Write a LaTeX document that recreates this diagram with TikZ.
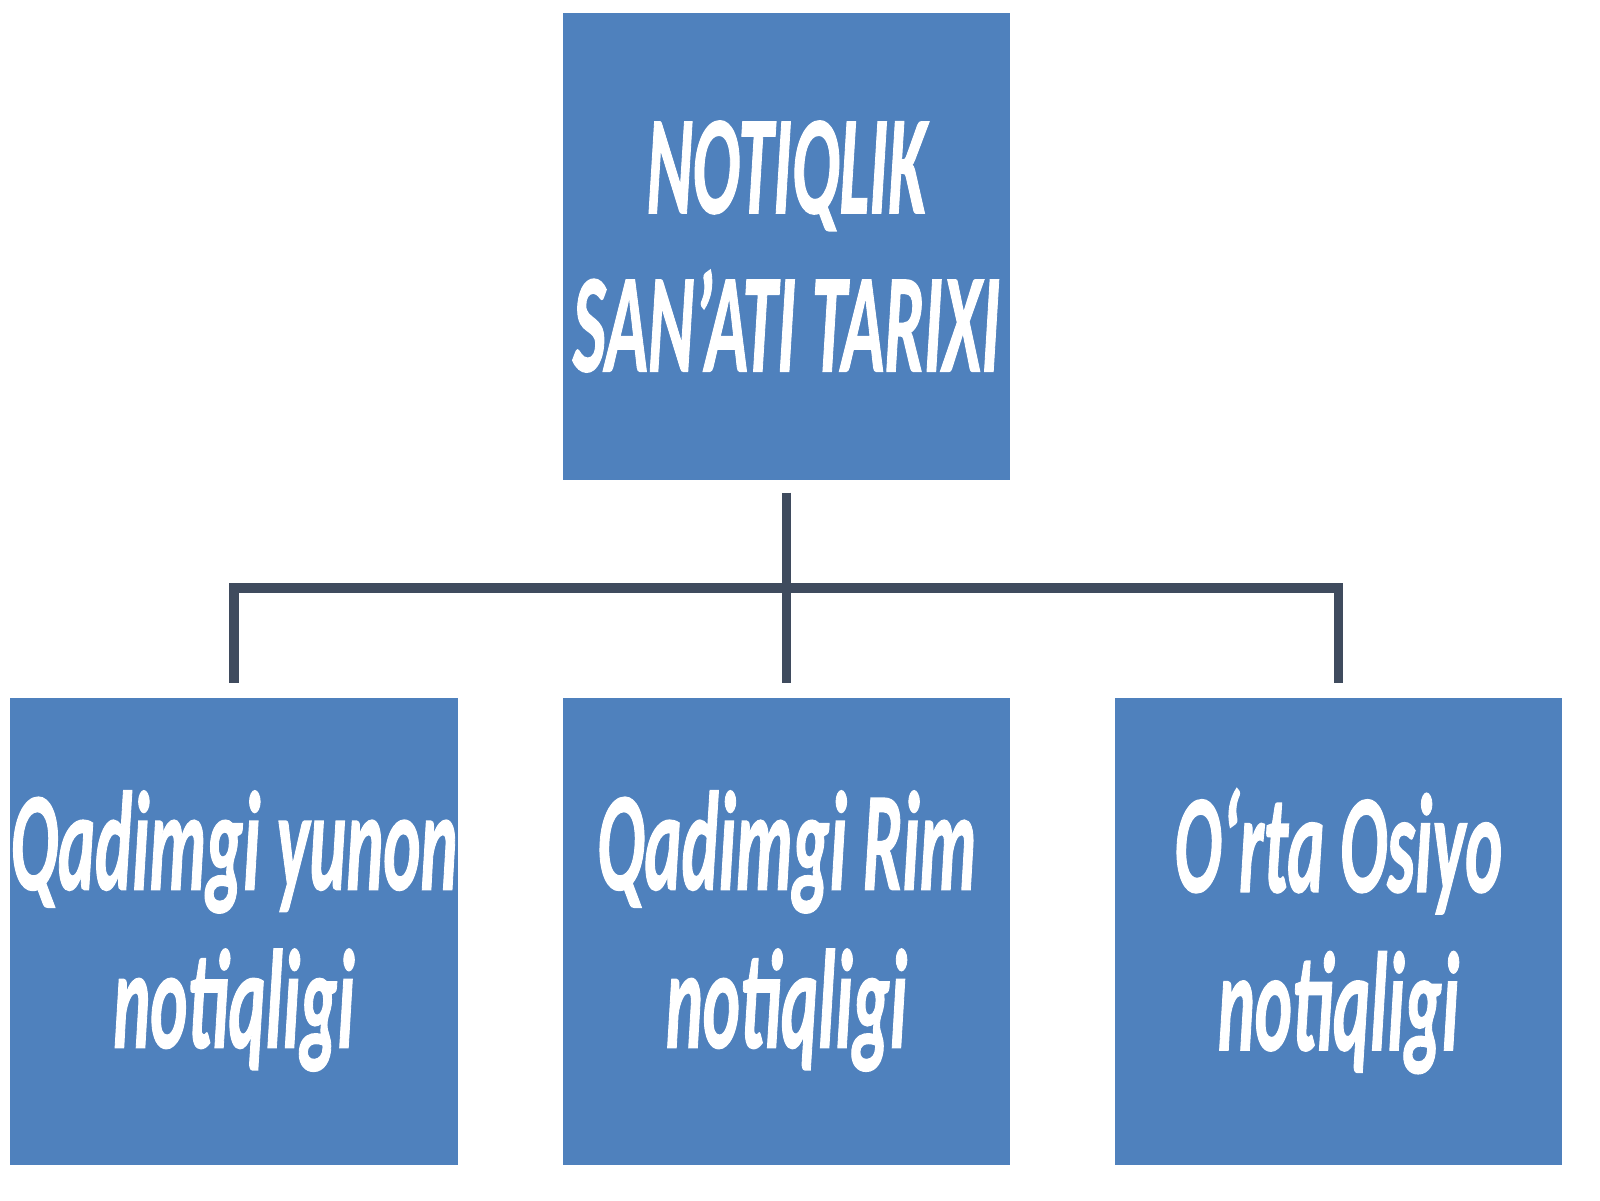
\documentclass[tikz,border=0pt]{standalone}
\usepackage{fontspec}
\setmainfont{Carlito}
\newfontfamily\boxfont[FakeBold=1.2]{Carlito}
\usepackage{graphicx}
\usepackage{tikz}
\usetikzlibrary{positioning}

\definecolor{boxblue}{HTML}{4F81BD}
\definecolor{linegray}{HTML}{3F4B5E}
\newcommand{\sq}[1]{\scalebox{0.5}[1]{#1}}

\begin{document}
\begin{tikzpicture}[
  tbox/.style={fill=boxblue, text=white, align=center, minimum width=4.47cm, minimum height=4.67cm, inner sep=0pt, font=\fontsize{40}{45}\boxfont\bfseries\itshape},
  conn/.style={draw=linegray, line width=2.6pt}]
\useasboundingbox (0,0) rectangle (16,-12);

\node[tbox] at (7.865,-2.465) (tarix) {\sq{NOTIQLIK}\\ \sq{SAN’ATI TARIXI}};

\node[tbox] at (2.34,-9.31) (yunon) {\sq{Qadimgi yunon}\\ \sq{notiqligi}};
\node[tbox] at (7.865,-9.31) (rim) {\sq{Qadimgi Rim}\\ \sq{notiqligi}};
\node[tbox] at (13.385,-9.31) (osiyo) {\sq{O‘rta Osiyo}\\ \sq{notiqligi}};

\coordinate (bus) at (7.865,-5.88);

\draw[conn, shorten <=0.14cm, shorten >=0.14cm] (yunon.north) |- (bus) -| (osiyo.north);
\draw[conn, shorten <=0.12cm, shorten >=0.14cm] (tarix.south) -- (rim.north);
\end{tikzpicture}
\end{document}
